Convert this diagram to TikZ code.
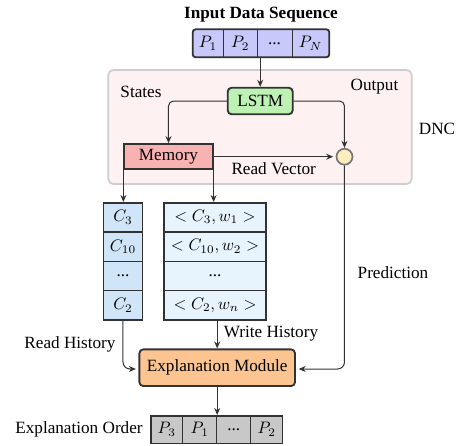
\documentclass[tikz,border=0pt]{standalone}
\usepackage{fontspec}
\setmainfont{Liberation Serif}
\usetikzlibrary{arrows.meta}
\newcommand\pxu{0.6pt}
\definecolor{inpc}{RGB}{200,200,250}
\definecolor{dncc}{RGB}{253,241,241}
\definecolor{dncb}{RGB}{205,205,205}
\definecolor{lstmc}{RGB}{190,242,180}
\definecolor{memc}{RGB}{248,178,178}
\definecolor{circc}{RGB}{253,236,190}
\definecolor{lcolc}{RGB}{208,230,248}
\definecolor{rcolc}{RGB}{232,244,253}
\definecolor{emc}{RGB}{251,196,145}
\definecolor{eoc}{RGB}{200,200,200}
\definecolor{linec}{RGB}{50,50,50}
\begin{document}
\begin{tikzpicture}[x=0.6pt,y=-0.6pt,
  font=\fontsize{10.3}{12.5}\selectfont,
  line width=0.6pt,
  arr/.style={draw=linec,-{Stealth[length=4.2pt,width=3.6pt]}},
  txt/.style={inner sep=0pt},
  colcell/.style={draw=linec, line width=0.9pt, inner sep=0pt, minimum height=29.3*\pxu},
  eocell/.style={draw=linec, line width=0.9pt, fill=eoc, inner sep=0pt, minimum height=27.5*\pxu},
  inpcell/.style={inner sep=0pt, minimum height=28*\pxu},
  thickbox/.style={draw=linec, line width=1.1pt, rounded corners=4*\pxu, inner sep=0pt},
]
\useasboundingbox (0,0) rectangle (458,445);

% title and input sequence
\node[txt, font=\fontsize{10.3}{12.5}\selectfont\bfseries] (title) at (261,15) {Input Data Sequence};
\coordinate (inNW) at (192.7,29.3);
\coordinate (inSE) at (329.3,57.3);
\fill[inpc, rounded corners=3*\pxu] (inNW) rectangle (inSE);
\node[inpcell, minimum width=30.6*\pxu] (in1) at (208,43.3) {$P_1$};
\node[inpcell, minimum width=34*\pxu] (in2) at (240.3,43.3) {$P_2$};
\node[inpcell, minimum width=34.4*\pxu] (in3) at (274.5,43.3) {...};
\node[inpcell, minimum width=37.6*\pxu] (in4) at (310.5,43.3) {$P_N$};
\draw[linec, line width=0.6pt] (in1.north east) -- (in1.south east)
  (in2.north east) -- (in2.south east) (in3.north east) -- (in3.south east);
\draw[linec, line width=1.1pt, rounded corners=3*\pxu] (inNW) rectangle (inSE);

% DNC box
\node[draw=dncb, line width=1pt, fill=dncc, rounded corners=5*\pxu, minimum width=303.4*\pxu, minimum height=114*\pxu, inner sep=0pt] (dnc) at (260,127) {};
\node[txt] (states) at (141,91.5) {States};
\node[txt] (output) at (374.5,86.7) {Output};
\node[txt] (dnclab) at (437,128.5) {DNC};

\node[thickbox, fill=lstmc, minimum width=65*\pxu, minimum height=26.6*\pxu] (lstm) at (260.2,101) {LSTM};
\node[draw=linec, line width=1.1pt, fill=memc, inner sep=0pt, minimum width=88.4*\pxu, minimum height=25.3*\pxu] (mem) at (168.5,156.7) {Memory};
\node[circle, draw=gray!90!black, line width=1pt, fill=circc, minimum size=16*\pxu, inner sep=0pt] (circ) at (344.5,156.7) {};
\node[txt] (rv) at (273.7,168.3) {Read Vector};

\draw[arr] (lstm.north |- in3.south) -- (lstm.north);
\draw[arr, rounded corners=5*\pxu] (lstm.west) -| (mem.north);
\draw[arr, rounded corners=5*\pxu] (lstm.east) -| (circ.north);
\draw[arr, shorten >=2.5*\pxu] (mem.east) -- (circ.west);

% left column
\node[colcell, fill=lcolc, minimum width=39.4*\pxu] (lc1) at (123,217.4) {$C_3$};
\node[colcell, fill=lcolc, minimum width=39.4*\pxu] (lc2) at (123,246.7) {$C_{10}$};
\node[colcell, fill=lcolc, minimum width=39.4*\pxu] (lc3) at (123,276) {...};
\node[colcell, fill=lcolc, minimum width=39.4*\pxu] (lc4) at (123,305.3) {$C_2$};
% right column
\node[colcell, fill=rcolc, minimum width=102*\pxu] (rc1) at (215,217.4) {$<C_3,w_1>$};
\node[colcell, fill=rcolc, minimum width=102*\pxu] (rc2) at (215,246.7) {$<C_{10},w_2>$};
\node[colcell, fill=rcolc, minimum width=102*\pxu] (rc3) at (215,276) {...};
\node[colcell, fill=rcolc, minimum width=102*\pxu] (rc4) at (215,305.3) {$<C_2,w_n>$};

\draw[arr] (mem.south west) -- (mem.south west |- lc1.north);
\draw[arr] (mem.south east) -- (mem.south east |- rc1.north);

% explanation module
\node[thickbox, fill=emc, minimum width=155.7*\pxu, minimum height=36.7*\pxu] (em) at (217.2,367.7) {Explanation Module};
\node[txt] (rh) at (70,344) {Read History};
\node[txt] (wh) at (271,334) {Write History};
\node[txt] (pred) at (393,273) {Prediction};

\draw[arr, rounded corners=7*\pxu] (lc4.south) |- ([xshift=-2.6*\pxu, yshift=-1.3*\pxu]em.west);
\draw[arr, rounded corners=7*\pxu] (circ.south) |- ([xshift=2.7*\pxu, yshift=-1.3*\pxu]em.east);
\draw[arr] (em.north |- rc4.south) -- (em.north);

% explanation order
\node[eocell, minimum width=31.7*\pxu] (eo1) at (166.8,429.5) {$P_3$};
\node[eocell, minimum width=34*\pxu] (eo2) at (199.7,429.5) {$P_1$};
\node[eocell, minimum width=34*\pxu] (eo3) at (233.7,429.5) {...};
\node[eocell, minimum width=32*\pxu] (eo4) at (266.7,429.5) {$P_2$};
\node[txt] (eolab) at (79,429.5) {Explanation Order};
\draw[arr] (em.south) -- (em.south |- eo2.north);
\end{tikzpicture}
\end{document}
